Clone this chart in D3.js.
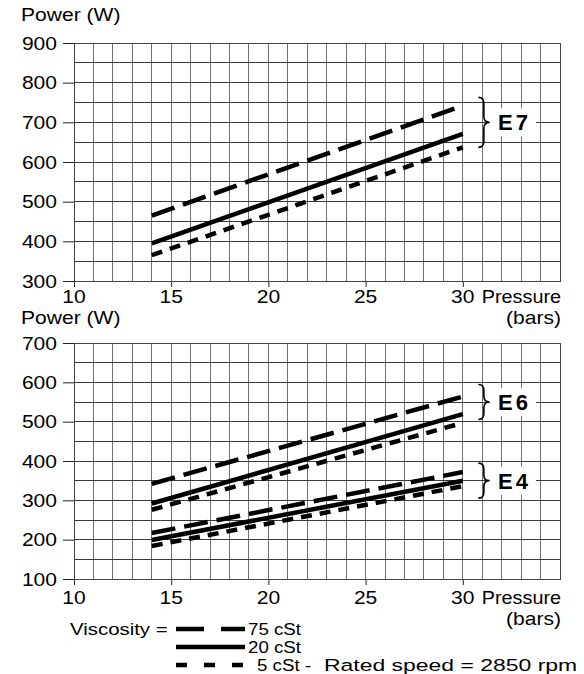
<!DOCTYPE html>
<html><head><meta charset="utf-8">
<script src="https://cdn.jsdelivr.net/npm/d3@7"></script>
<style>body{margin:0;background:#fff}svg{display:block}</style>
</head><body>
<svg id="c" width="584" height="674"></svg>
<script>
// ---- data ----
const pressure = [14, 30];
const e7_75 = [465, 742], e7_20 = [395, 671], e7_5 = [365, 637];
const e6_75 = [342, 564], e6_20 = [292, 519], e6_5 = [276, 497];
const e4_75 = [217, 372], e4_20 = [199, 350], e4_5 = [184, 336];
const xTickValues = [10, 15, 20, 25, 30];
const yTicksTop = [300, 400, 500, 600, 700, 800, 900];
const yTicksBot = [100, 200, 300, 400, 500, 600, 700];
const viscosityLabels = ["75 cSt", "20 cSt", "5 cSt"];
const groupLabels = ["E7", "E6", "E4"];
const groupCenters = [700, 550, 350];
const legendTitle = "Viscosity =";
const ratedNote = "Rated speed = 2850 rpm";

// ---- styles ----
const FONT = "'Liberation Sans', Arial, sans-serif";
const FS = 18, SX = 1.17;
const dashes = ["24,9", null, "11,8"];
const svg = d3.select("#c");
svg.append("rect").attr("width", 584).attr("height", 674).attr("fill", "#fff");

function txt(x, y, s, anchor = "start", opts = {}) {
  return svg.append("text")
    .attr("transform", `translate(${x},${y}) scale(${opts.sx || SX},1)`)
    .attr("text-anchor", anchor)
    .attr("font-family", FONT)
    .attr("font-size", opts.fs || FS)
    .attr("font-weight", opts.bold ? "bold" : "normal")
    .attr("letter-spacing", opts.ls || 0)
    .attr("fill", "#000")
    .text(s);
}

const x = d3.scaleLinear().domain([10, 35]).range([74, 560]);
const yTop = d3.scaleLinear().domain([300, 900]).range([281, 43]);
const yBot = d3.scaleLinear().domain([100, 700]).range([579, 343]);

function panel(y, yTicks, series, groups, tickBaseline) {
  const g = svg.append("g");
  const [y0, y1] = y.domain();
  // grid
  g.selectAll(".v").data(d3.range(10, 36, 1)).join("line")
    .attr("x1", d => x(d)).attr("x2", d => x(d))
    .attr("y1", y(y1)).attr("y2", y(y0))
    .attr("stroke", "#707070").attr("stroke-width", 1).attr("shape-rendering", "crispEdges");
  g.selectAll(".h").data(d3.range(y0, y1 + 1, 50)).join("line")
    .attr("x1", x(10)).attr("x2", x(35))
    .attr("y1", d => y(d)).attr("y2", d => y(d))
    .attr("stroke", "#3a3a3a").attr("stroke-width", 1).attr("shape-rendering", "crispEdges");
  // left ticks
  const ax = d3.axisLeft(y).tickValues(yTicks).tickSize(11).tickFormat("");
  const ga = g.append("g").attr("transform", `translate(${x(10)},0)`).call(ax);
  ga.select(".domain").remove();
  ga.selectAll("line").attr("stroke", "#222");
  yTicks.forEach(t => txt(x(10) - 17, y(t) + 6.5, String(t), "end"));
  // bottom ticks
  const bx = d3.axisBottom(x).tickValues(xTickValues).tickSize(6).tickFormat("");
  const gb = g.append("g").attr("transform", `translate(0,${y(y0)})`).call(bx);
  gb.select(".domain").remove();
  gb.selectAll("line").attr("stroke", "#222");
  xTickValues.forEach(t => txt(x(t), tickBaseline, String(t), "middle"));
  txt(x(35) + 1, tickBaseline, "Pressure", "end", {sx: 1.1});
  txt(x(35) + 1, tickBaseline + 21, "(bars)", "end");
  // series
  const line = d3.line().x(d => x(d[0])).y(d => y(d[1]));
  series.forEach(s => {
    g.append("path")
      .datum(pressure.map((p, i) => [p, s.v[i]]))
      .attr("d", line)
      .attr("fill", "none").attr("stroke", "#000").attr("stroke-width", 4.5)
      .attr("stroke-dasharray", dashes[s.k]);
  });
  // braces + labels
  groups.forEach(gr => {
    const yc = y(gr.c), h = gr.h, bx0 = x(30.8), w = 11, r = 6, mx = bx0 + w / 2;
    g.append("rect").attr("x", x(31.4)).attr("y", yc - 14).attr("width", 46).attr("height", 28).attr("fill", "#fff");
    g.append("path")
      .attr("d", `M${bx0},${yc - h} Q${mx},${yc - h} ${mx},${yc - h + r} L${mx},${yc - r} Q${mx},${yc} ${bx0 + w},${yc} Q${mx},${yc} ${mx},${yc + r} L${mx},${yc + h - r} Q${mx},${yc + h} ${bx0},${yc + h}`)
      .attr("fill", "none").attr("stroke", "#000").attr("stroke-width", 1.6);
    txt(x(31.4) + 8, yc + 8, gr.label, "start", {bold: true, fs: 22, sx: 1.0, ls: 3});
  });
  // border
  g.append("rect").attr("x", x(10)).attr("y", y(y1)).attr("width", x(35) - x(10)).attr("height", y(y0) - y(y1))
    .attr("fill", "none").attr("stroke", "#444").attr("stroke-width", 1).attr("shape-rendering", "crispEdges");
}

txt(21, 21, "Power (W)");
panel(yTop, yTicksTop, [
  {v: e7_75, k: 0}, {v: e7_20, k: 1}, {v: e7_5, k: 2}
], [{label: groupLabels[0], c: groupCenters[0], h: 25}], 303);

txt(21, 324, "Power (W)");
panel(yBot, yTicksBot, [
  {v: e6_75, k: 0}, {v: e6_20, k: 1}, {v: e6_5, k: 2},
  {v: e4_75, k: 0}, {v: e4_20, k: 1}, {v: e4_5, k: 2}
], [{label: groupLabels[1], c: groupCenters[1], h: 17.5}, {label: groupLabels[2], c: groupCenters[2], h: 17.5}], 604);

// legend
const LFS = 17, LSX = 1.1;
txt(70, 635, legendTitle, "start", {fs: LFS, sx: 1.2});
const legRows = [629, 647, 665];
const lx = d3.scaleLinear().domain([0, 1]).range([176, 245]);
viscosityLabels.forEach((lab, i) => {
  svg.append("line").attr("x1", lx(0)).attr("x2", lx(1)).attr("y1", legRows[i]).attr("y2", legRows[i])
    .attr("stroke", "#000").attr("stroke-width", 4.5)
    .attr("stroke-dasharray", i === 0 ? "28,17" : (i === 2 ? "11,17" : null));
  txt(i === 2 ? 257 : 248, legRows[i] + 6, lab, "start", {fs: LFS, sx: LSX});
});
txt(305, legRows[2] + 6, "-", "start", {fs: LFS, sx: LSX});
txt(324, legRows[2] + 6, ratedNote, "start", {fs: LFS, sx: 1.35});
</script>
</body></html>
